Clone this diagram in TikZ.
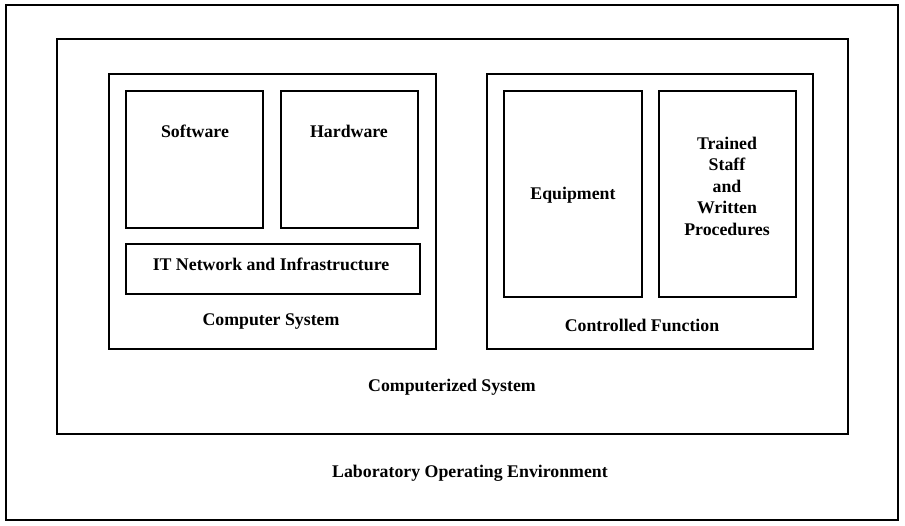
\documentclass[tikz,border=0pt]{standalone}
\usepackage{fontspec}
\setmainfont{Liberation Serif}
\begin{document}
\begin{tikzpicture}[x=1pt,y=-1pt,
  box/.style={draw=black,line width=1.2pt},
  lbl/.style={font=\fontsize{17.8}{21.5}\selectfont\bfseries,inner sep=0pt,align=center,text=black}]
\useasboundingbox (0,0) rectangle (905,526);
\fill[white] (0,0) rectangle (905,526);
\draw[box] (6,5) rectangle (898,520);
\draw[box] (57,39) rectangle (848,434);
\draw[box] (109,74) rectangle (436,349);
\draw[box] (126,91) rectangle (263,228);
\draw[box] (281,91) rectangle (418,228);
\draw[box] (126,244) rectangle (420,294);
\draw[box] (487,74) rectangle (813,349);
\draw[box] (504,91) rectangle (642,297);
\draw[box] (659,91) rectangle (796,297);
\node[lbl] (sw) at (195,131) {Software};
\node[lbl] (hw) at (349,131) {Hardware};
\node[lbl] (it) at (271,264) {IT Network and Infrastructure};
\node[lbl] (cs) at (271,322) {Computer System};
\node[lbl] (eq) at (573,195) {Equipment};
\node[lbl] (ts) at (727,186) {Trained\\Staff\\and\\Written\\Procedures};
\node[lbl] (cf) at (642,325) {Controlled Function};
\node[lbl] (czs) at (452,387.5) {Computerized System};
\node[lbl] (loe) at (470,473.5) {Laboratory Operating Environment};
\end{tikzpicture}
\end{document}
